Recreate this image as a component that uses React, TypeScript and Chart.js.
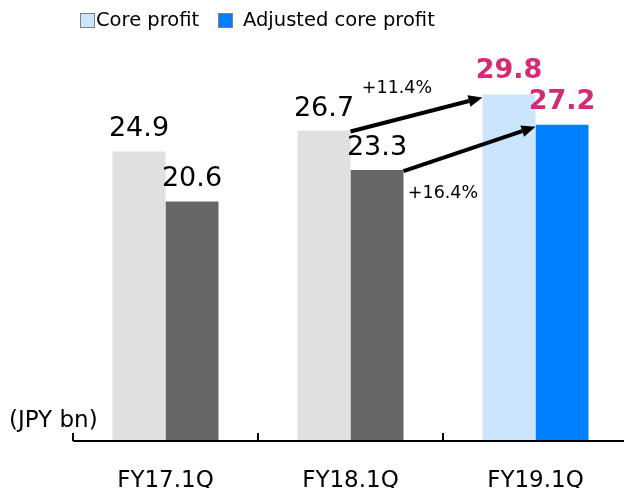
import React, { useEffect, useRef } from "react";
import { Chart, registerables } from "chart.js";

Chart.register(...registerables);

const categories = ["FY17.1Q", "FY18.1Q", "FY19.1Q"];
const coreProfit = [24.9, 26.7, 29.8];
const adjustedCoreProfit = [20.6, 23.3, 27.2];
const coreColors = ["#E0E0E0", "#E0E0E0", "#CCE5FF"];
const adjustedColors = ["#666666", "#666666", "#0080FF"];
const growthCore = "+11.4%";
const growthAdjusted = "+16.4%";
const unitLabel = "(JPY bn)";
const FONT = "'DejaVu Sans', Verdana, sans-serif";
const PINK = "#D42A78";

function arrow(ctx: CanvasRenderingContext2D, x1: number, y1: number, x2: number, y2: number) {
  const ang = Math.atan2(y2 - y1, x2 - x1);
  const head = 14;
  const hw = 6;
  const bx = x2 - head * Math.cos(ang);
  const by = y2 - head * Math.sin(ang);
  ctx.save();
  ctx.strokeStyle = "#000";
  ctx.fillStyle = "#000";
  ctx.lineWidth = 4;
  ctx.beginPath();
  ctx.moveTo(x1, y1);
  ctx.lineTo(bx, by);
  ctx.stroke();
  ctx.beginPath();
  ctx.moveTo(x2, y2);
  ctx.lineTo(bx + hw * Math.sin(ang), by - hw * Math.cos(ang));
  ctx.lineTo(bx - hw * Math.sin(ang), by + hw * Math.cos(ang));
  ctx.closePath();
  ctx.fill();
  ctx.restore();
}

const decor = {
  id: "decor",
  afterDatasetsDraw(chart: any) {
    const ctx: CanvasRenderingContext2D = chart.ctx;
    const { left, right, bottom } = chart.chartArea;
    const xs = chart.scales.x;
    ctx.save();
    // axis
    ctx.strokeStyle = "#000";
    ctx.lineWidth = 2;
    ctx.beginPath();
    ctx.moveTo(left, bottom);
    ctx.lineTo(right, bottom);
    ctx.stroke();
    const step = (right - left) / categories.length;
    for (let i = 0; i <= categories.length; i++) {
      const x = Math.round(left + i * step);
      ctx.beginPath();
      ctx.moveTo(x, bottom);
      ctx.lineTo(x, bottom - 8);
      ctx.stroke();
    }
    // category labels
    ctx.fillStyle = "#000";
    ctx.font = `23px ${FONT}`;
    ctx.textAlign = "center";
    ctx.textBaseline = "alphabetic";
    categories.forEach((c, i) => {
      ctx.fillText(c, xs.getPixelForValue(i), 487);
    });
    // unit label
    ctx.textAlign = "left";
    ctx.textBaseline = "middle";
    ctx.font = `23px ${FONT}`;
    ctx.fillText(unitLabel, 9, 421);

    // value labels
    const m0 = chart.getDatasetMeta(0);
    const m1 = chart.getDatasetMeta(1);
    ctx.textBaseline = "alphabetic";
    ctx.textAlign = "center";
    [m0, m1].forEach((meta: any, di: number) => {
      const vals = di === 0 ? coreProfit : adjustedCoreProfit;
      meta.data.forEach((bar: any, i: number) => {
        const last = i === categories.length - 1;
        ctx.fillStyle = last ? PINK : "#000";
        ctx.font = `${last ? "bold " : ""}27px ${FONT}`;
        ctx.fillText(vals[i].toFixed(1), bar.x, bar.y - (last ? 16 : 15));
      });
    });

    // arrows
    const a0 = m0.data[1], a1 = m0.data[2];
    const b0 = m1.data[1], b1 = m1.data[2];
    arrow(ctx, a0.x + a0.width / 2, a0.y + 1, a1.x - a1.width / 2, a1.y + 3);
    arrow(ctx, b0.x + b0.width / 2, b0.y + 1, b1.x - b1.width / 2, b1.y + 2);
    ctx.fillStyle = "#000";
    ctx.font = `17.5px ${FONT}`;
    ctx.textAlign = "center";
    ctx.textBaseline = "middle";
    ctx.fillText(growthCore, 397, 88);
    ctx.fillText(growthAdjusted, 443, 193);

    // legend
    ctx.lineWidth = 1;
    ctx.strokeStyle = "#7F7F7F";
    ctx.fillStyle = "#CCE5FF";
    ctx.fillRect(80.5, 13.5, 14, 14);
    ctx.strokeRect(80.5, 13.5, 14, 14);
    ctx.fillStyle = "#0080FF";
    ctx.fillRect(218.5, 13.5, 14, 14);
    ctx.strokeRect(218.5, 13.5, 14, 14);
    ctx.fillStyle = "#000";
    ctx.font = `19.5px ${FONT}`;
    ctx.textAlign = "left";
    ctx.textBaseline = "middle";
    ctx.fillText("Core profit", 96, 21);
    ctx.fillText("Adjusted core profit", 243, 21);
    ctx.restore();
  },
};

export default function App() {
  const ref = useRef<HTMLCanvasElement | null>(null);
  useEffect(() => {
    if (!ref.current) return;
    const chart = new Chart(ref.current, {
      type: "bar",
      data: {
        labels: categories,
        datasets: [
          {
            label: "Core profit",
            data: coreProfit,
            backgroundColor: coreColors,
            borderWidth: 0,
            categoryPercentage: 0.573,
            barPercentage: 1,
          },
          {
            label: "Adjusted core profit",
            data: adjustedCoreProfit,
            backgroundColor: adjustedColors,
            borderWidth: 0,
            categoryPercentage: 0.573,
            barPercentage: 1,
          },
        ],
      },
      options: {
        animation: false,
        responsive: false,
        maintainAspectRatio: false,
        layout: { padding: { left: 73, right: 2, top: 34, bottom: 47 } },
        plugins: { legend: { display: false }, tooltip: { enabled: false } },
        scales: {
          x: { display: false },
          y: { display: false, min: 0, max: 35 },
        },
      },
      plugins: [decor],
    });
    return () => chart.destroy();
  }, []);
  return (
    <div style={{ position: "fixed", left: 0, top: 0, width: 624, height: 488, overflow: "hidden", background: "#fff" }}>
      <canvas ref={ref} width={630} height={488} style={{ width: 630, height: 488, display: "block" }} />
    </div>
  );
}
